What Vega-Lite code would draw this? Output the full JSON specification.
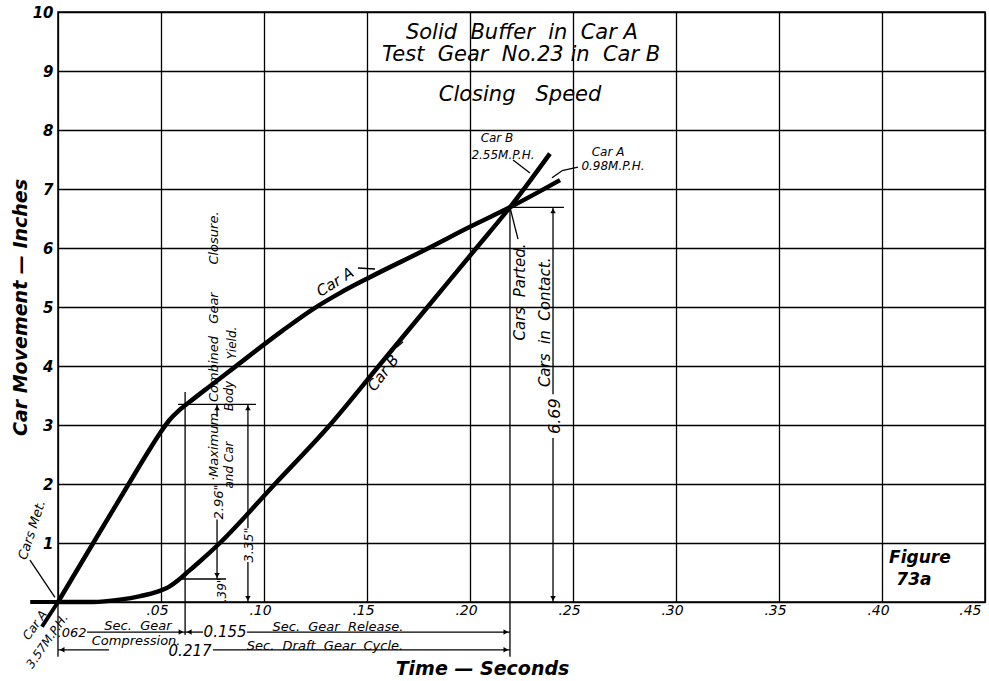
{
  "$schema": "https://vega.github.io/schema/vega-lite/v6.json",
  "width": 927,
  "height": 590,
  "autosize": {"type": "none"},
  "padding": {"left": 58, "top": 12, "right": 4, "bottom": 79},
  "background": "white",
  "config": {
    "view": {"stroke": "black", "strokeWidth": 1.5},
    "font": "DejaVu Sans",
    "text": {"font": "DejaVu Sans", "fontStyle": "italic", "color": "black", "align": "center", "baseline": "middle"}
  },
  "datasets": {
    "curves": [
      {"car": "Car A", "x": 0, "y": 0},
      {"car": "Car A", "x": 0.0171, "y": 1},
      {"car": "Car A", "x": 0.0343, "y": 2},
      {"car": "Car A", "x": 0.044, "y": 2.56},
      {"car": "Car A", "x": 0.0495, "y": 2.86},
      {"car": "Car A", "x": 0.054, "y": 3.08},
      {"car": "Car A", "x": 0.0585, "y": 3.24},
      {"car": "Car A", "x": 0.0635, "y": 3.38},
      {"car": "Car A", "x": 0.0723, "y": 3.62},
      {"car": "Car A", "x": 0.085, "y": 3.96},
      {"car": "Car A", "x": 0.109, "y": 4.6},
      {"car": "Car A", "x": 0.124, "y": 4.97},
      {"car": "Car A", "x": 0.137, "y": 5.24},
      {"car": "Car A", "x": 0.15, "y": 5.48},
      {"car": "Car A", "x": 0.18, "y": 6.0},
      {"car": "Car A", "x": 0.2, "y": 6.36},
      {"car": "Car A", "x": 0.2194, "y": 6.69},
      {"car": "Car A", "x": 0.2437, "y": 7.15},
      {"car": "Car B", "x": 0, "y": 0},
      {"car": "Car B", "x": 0.017, "y": 0.0},
      {"car": "Car B", "x": 0.03, "y": 0.04},
      {"car": "Car B", "x": 0.04, "y": 0.1},
      {"car": "Car B", "x": 0.048, "y": 0.17},
      {"car": "Car B", "x": 0.054, "y": 0.26},
      {"car": "Car B", "x": 0.058, "y": 0.36},
      {"car": "Car B", "x": 0.062, "y": 0.48},
      {"car": "Car B", "x": 0.068, "y": 0.66},
      {"car": "Car B", "x": 0.0786, "y": 1.0},
      {"car": "Car B", "x": 0.1053, "y": 2.0},
      {"car": "Car B", "x": 0.132, "y": 3.0},
      {"car": "Car B", "x": 0.1557, "y": 4.0},
      {"car": "Car B", "x": 0.1794, "y": 5.0},
      {"car": "Car B", "x": 0.2031, "y": 6.0},
      {"car": "Car B", "x": 0.2194, "y": 6.69},
      {"car": "Car B", "x": 0.2388, "y": 7.6}
    ],
    "rules": [
      {"x": 0.0617, "y": 3.56, "x2": 0.0617, "y2": -0.56},
      {"x": 0.0583, "y": 3.35, "x2": 0.0961, "y2": 3.35},
      {"x": 0.0578, "y": 0.39, "x2": 0.0816, "y2": 0.39},
      {"x": 0.0772, "y": 0.39, "x2": 0.0772, "y2": 1.40},
      {"x": 0.0772, "y": 3.14, "x2": 0.0772, "y2": 3.35},
      {"x": 0.0922, "y": 0, "x2": 0.0922, "y2": 0.68},
      {"x": 0.0922, "y": 1.25, "x2": 0.0922, "y2": 3.35},
      {"x": 0.2194, "y": 6.69, "x2": 0.2194, "y2": -0.93},
      {"x": 0.2194, "y": 6.69, "x2": 0.2456, "y2": 6.69},
      {"x": 0.2403, "y": 0, "x2": 0.2403, "y2": 2.78},
      {"x": 0.2403, "y": 3.52, "x2": 0.2403, "y2": 6.69},
      {"x": 0, "y": 0, "x2": 0, "y2": -0.93},
      {"x": 0.0141, "y": -0.51, "x2": 0.0617, "y2": -0.51},
      {"x": 0.0617, "y": -0.51, "x2": 0.0704, "y2": -0.51},
      {"x": 0.0917, "y": -0.51, "x2": 0.2194, "y2": -0.51},
      {"x": 0, "y": -0.81, "x2": 0.0248, "y2": -0.81},
      {"x": 0.0752, "y": -0.81, "x2": 0.2194, "y2": -0.81},
      {"x": -0.0136, "y": 0.71, "x2": -0.0015, "y2": 0.08},
      {"x": 0.2194, "y": 6.69, "x2": 0.2233, "y2": 6.15},
      {"x": 0.1456, "y": 5.661, "x2": 0.1539, "y2": 5.644},
      {"x": 0.1646, "y": 4.32, "x2": 0.1675, "y2": 4.41},
      {"x": 0.2209, "y": 7.49, "x2": 0.2291, "y2": 7.27},
      {"x": 0.2524, "y": 7.37, "x2": 0.2447, "y2": 7.31},
      {"x": 0.2447, "y": 7.31, "x2": 0.2398, "y2": 7.19}
    ],
    "thick": [
      {"x": -0.0135, "y": 0, "x2": 0, "y2": 0},
      {"x": 0, "y": 0, "x2": -0.0078, "y2": -0.42}
    ],
    "arrows": [
      {"x": 0.0772, "y": 3.29, "dir": "up"},
      {"x": 0.0772, "y": 0.45, "dir": "down"},
      {"x": 0.0922, "y": 3.29, "dir": "up"},
      {"x": 0.0922, "y": 0.06, "dir": "down"},
      {"x": 0.2403, "y": 6.63, "dir": "up"},
      {"x": 0.2403, "y": 0.06, "dir": "down"},
      {"x": 0.0597, "y": -0.51, "dir": "right"},
      {"x": 0.0637, "y": -0.51, "dir": "left"},
      {"x": 0.2174, "y": -0.51, "dir": "right"},
      {"x": 0.002, "y": -0.81, "dir": "left"},
      {"x": 0.2174, "y": -0.81, "dir": "right"}
    ]
  },
  "encoding": {
    "x": {
      "field": "x", "type": "quantitative",
      "scale": {"domain": [0, 0.45], "nice": false, "zero": false},
      "axis": {
        "values": [0, 0.05, 0.1, 0.15, 0.2, 0.25, 0.3, 0.35, 0.4, 0.45],
        "labelExpr": "datum.value == 0 ? '' : replace(format(datum.value, '.2f'), '0.', '.')",
        "grid": true, "gridColor": "black", "gridWidth": 1.3, "gridOpacity": 1,
        "ticks": false, "domain": false,
        "labelFont": "DejaVu Sans", "labelFontStyle": "italic", "labelFontSize": 14, "labelColor": "black",
        "labelPadding": 1, "labelOffset": -4,
        "title": "Time — Seconds", "titleFont": "DejaVu Sans", "titleFontStyle": "italic", "titleFontWeight": "bold",
        "titleFontSize": 19, "titleColor": "black", "titleX": 424, "titleY": 66, "titleBaseline": "middle"
      }
    },
    "y": {
      "field": "y", "type": "quantitative",
      "scale": {"domain": [0, 10], "nice": false, "zero": false},
      "axis": {
        "values": [0, 1, 2, 3, 4, 5, 6, 7, 8, 9, 10],
        "labelExpr": "datum.value == 0 ? '' : datum.label",
        "grid": true, "gridColor": "black", "gridWidth": 1.3, "gridOpacity": 1,
        "ticks": false, "domain": false,
        "labelFont": "DejaVu Sans", "labelFontStyle": "italic", "labelFontWeight": "bold", "labelFontSize": 15, "labelColor": "black",
        "labelPadding": 5,
        "title": "Car Movement — Inches", "titleFont": "DejaVu Sans", "titleFontStyle": "italic", "titleFontWeight": "bold",
        "titleFontSize": 19, "titleColor": "black", "titleX": -38, "titleBaseline": "middle"
      }
    }
  },
  "layer": [
    {
      "data": {"name": "curves"},
      "mark": {"type": "line", "color": "black", "strokeWidth": 4.5, "interpolate": "monotone", "clip": false},
      "encoding": {"detail": {"field": "car"}}
    },
    {
      "data": {"name": "rules"},
      "mark": {"type": "rule", "color": "black", "strokeWidth": 1.3, "clip": false},
      "encoding": {"x2": {"field": "x2"}, "y2": {"field": "y2"}}
    },
    {
      "data": {"name": "thick"},
      "mark": {"type": "rule", "color": "black", "strokeWidth": 4, "clip": false},
      "encoding": {"x2": {"field": "x2"}, "y2": {"field": "y2"}}
    },
    {
      "data": {"name": "arrows"},
      "mark": {"type": "point", "filled": true, "color": "black", "size": 30, "opacity": 1, "clip": false},
      "encoding": {
        "shape": {"field": "dir", "type": "nominal", "legend": null,
          "scale": {"domain": ["up", "down", "left", "right"], "range": ["triangle-up", "triangle-down", "triangle-left", "triangle-right"]}}
      }
    },
    {
      "data": {"values": [
        {"x": 0.2252, "y": 9.644, "label": "Solid\u00a0\u00a0Buffer\u00a0\u00a0in\u00a0\u00a0Car\u00a0A"},
        {"x": 0.2248, "y": 9.271, "label": "Test\u00a0\u00a0Gear\u00a0\u00a0No.23\u00a0in\u00a0\u00a0Car\u00a0B"},
        {"x": 0.2243, "y": 8.593, "label": "Closing\u00a0\u00a0\u00a0Speed"}
      ]},
      "mark": {"type": "text", "fontSize": 21},
      "encoding": {"text": {"field": "label"}}
    },
    {
      "data": {"values": [
        {"x": 0.2131, "y": 7.864, "label": "Car B"},
        {"x": 0.216, "y": 7.576, "label": "2.55M.P.H."},
        {"x": 0.267, "y": 7.627, "label": "Car A"},
        {"x": 0.2694, "y": 7.39, "label": "0.98M.P.H."}
      ]},
      "mark": {"type": "text", "fontSize": 12},
      "encoding": {"text": {"field": "label"}}
    },
    {
      "data": {"values": [
        {"x": 0.0068, "y": -0.525, "label": ".062"},
        {"x": 0.0388, "y": -0.4, "label": "Sec.\u00a0\u00a0Gear"},
        {"x": 0.0379, "y": -0.66, "label": "Compression."},
        {"x": 0.1359, "y": -0.42, "label": "Sec.\u00a0\u00a0Gear\u00a0\u00a0Release."},
        {"x": 0.1296, "y": -0.745, "label": "Sec.\u00a0\u00a0Draft\u00a0\u00a0Gear\u00a0\u00a0Cycle."}
      ]},
      "mark": {"type": "text", "fontSize": 13, "clip": false},
      "encoding": {"text": {"field": "label"}}
    },
    {
      "data": {"values": [
        {"x": 0.0811, "y": -0.5, "label": "0.155"},
        {"x": 0.0641, "y": -0.835, "label": "0.217"}
      ]},
      "mark": {"type": "text", "fontSize": 15, "clip": false},
      "encoding": {"text": {"field": "label"}}
    },
    {
      "data": {"values": [
        {"x": 0.0782, "y": 1.695, "label": "2.96\""},
        {"x": 0.0757, "y": 2.627, "label": "·Maximum"},
        {"x": 0.0757, "y": 3.95, "label": "Combined"},
        {"x": 0.0757, "y": 4.983, "label": "Gear"},
        {"x": 0.0757, "y": 6.169, "label": "Closure."},
        {"x": 0.0927, "y": 0.966, "label": "3.35\""}
      ]},
      "mark": {"type": "text", "fontSize": 13, "angle": 270},
      "encoding": {"text": {"field": "label"}}
    },
    {
      "data": {"values": [
        {"x": 0.083, "y": 2.322, "label": "and Car"},
        {"x": 0.083, "y": 3.492, "label": "Body"},
        {"x": 0.0845, "y": 4.39, "label": "Yield."},
        {"x": 0.0796, "y": 0.203, "label": ".39\""}
      ]},
      "mark": {"type": "text", "fontSize": 12, "angle": 270},
      "encoding": {"text": {"field": "label"}}
    },
    {
      "data": {"values": [
        {"x": 0.2243, "y": 5.254, "label": "Cars\u00a0\u00a0Parted."},
        {"x": 0.2363, "y": 4.74, "label": "Cars\u00a0\u00a0in\u00a0\u00a0Contact."}
      ]},
      "mark": {"type": "text", "fontSize": 15, "angle": 270},
      "encoding": {"text": {"field": "label"}}
    },
    {
      "data": {"values": [{"x": 0.2415, "y": 3.15, "label": "6.69"}]},
      "mark": {"type": "text", "fontSize": 16, "angle": 270},
      "encoding": {"text": {"field": "label"}}
    },
    {
      "data": {"values": [{"x": 0.1345, "y": 5.424, "label": "Car A"}]},
      "mark": {"type": "text", "fontSize": 15, "angle": 328},
      "encoding": {"text": {"field": "label"}}
    },
    {
      "data": {"values": [{"x": 0.1578, "y": 3.881, "label": "Car B"}]},
      "mark": {"type": "text", "fontSize": 15, "angle": 308},
      "encoding": {"text": {"field": "label"}}
    },
    {
      "data": {"values": [{"x": -0.0126, "y": 1.22, "label": "Cars Met."}]},
      "mark": {"type": "text", "fontSize": 13, "angle": 288, "clip": false},
      "encoding": {"text": {"field": "label"}}
    },
    {
      "data": {"values": [
        {"x": -0.0112, "y": -0.39, "label": "Car A"},
        {"x": -0.0053, "y": -0.661, "label": "3.57M.P.H."}
      ]},
      "mark": {"type": "text", "fontSize": 12, "angle": 305, "clip": false},
      "encoding": {"text": {"field": "label"}}
    },
    {
      "data": {"values": [
        {"x": 0.4184, "y": 0.746, "label": "Figure"},
        {"x": 0.4155, "y": 0.373, "label": "73a"}
      ]},
      "mark": {"type": "text", "fontSize": 17, "fontWeight": "bold"},
      "encoding": {"text": {"field": "label"}}
    }
  ]
}
